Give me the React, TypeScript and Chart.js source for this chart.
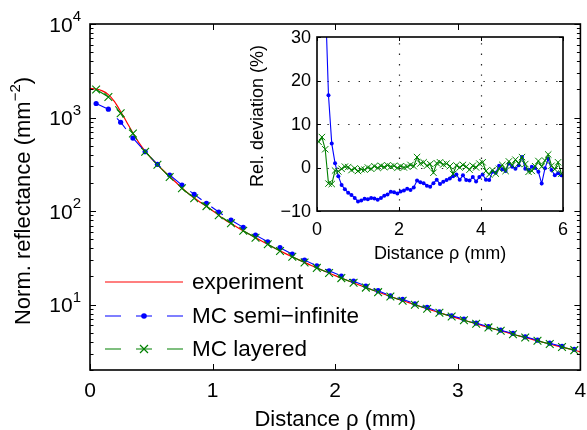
import React, { useEffect, useRef } from 'react';
import { Chart, registerables } from 'chart.js';

Chart.register(...registerables);

const FONT = '"Liberation Sans", Arial, Helvetica, sans-serif';

// ---------- main plot data ----------
const rhoExp = [0, 0.05, 0.1, 0.15, 0.2, 0.25, 0.3, 0.35, 0.4, 0.45, 0.5, 0.55, 0.6, 0.7, 0.8, 0.9, 1.0, 1.1, 1.2, 1.3, 1.4, 1.5, 1.6, 1.7, 1.8, 1.9, 2.0, 2.1, 2.2, 2.3, 2.4, 2.5, 2.6, 2.7, 2.8, 2.9, 3.0, 3.1, 3.2, 3.3, 3.4, 3.5, 3.6, 3.7, 3.8, 3.9, 4.0];
const reflExperiment = [2042, 2018, 1928, 1758, 1479, 1161, 891, 684, 537, 437, 367, 314, 270, 203, 155, 124, 101, 81, 67.3, 56.4, 47.8, 40.6, 34.9, 30.3, 26.4, 23.2, 20.4, 18.1, 16.1, 14.4, 12.9, 11.6, 10.5, 9.49, 8.61, 7.82, 7.13, 6.52, 5.97, 5.47, 5.04, 4.63, 4.28, 3.94, 3.65, 3.38, 3.13];

const rhoMC = [0.05, 0.15, 0.25, 0.35, 0.45, 0.55, 0.65, 0.75, 0.85, 0.95, 1.05, 1.15, 1.25, 1.35, 1.45, 1.55, 1.65, 1.75, 1.85, 1.95, 2.05, 2.15, 2.25, 2.35, 2.45, 2.55, 2.65, 2.75, 2.85, 2.95, 3.05, 3.15, 3.25, 3.35, 3.45, 3.55, 3.65, 3.75, 3.85, 3.95];
const reflSemiInfinite = [1413, 1230, 891, 603, 431, 316, 243, 190, 151, 121, 97.7, 80.2, 67.0, 55.3, 47.0, 40.6, 34.7, 29.9, 26.0, 23.0, 20.2, 17.8, 15.8, 14.1, 12.4, 11.4, 10.2, 9.33, 8.36, 7.59, 7.0, 6.35, 5.81, 5.33, 4.92, 4.53, 4.17, 3.87, 3.58, 3.33];
const reflLayered = [1995, 1660, 1109, 676, 431, 313, 231, 175, 137, 113, 90.2, 74.0, 61.7, 51.8, 44.1, 37.5, 32.5, 28.2, 24.7, 21.8, 19.2, 17.1, 15.2, 13.6, 12.2, 11.0, 9.95, 9.04, 8.2, 7.46, 6.82, 6.24, 5.71, 5.25, 4.83, 4.45, 4.1, 3.79, 3.52, 3.26];

const mainXTicks = [0, 1, 2, 3, 4];
const mainYExponents = [1, 2, 3, 4];
const legendLabels = ['experiment', 'MC semi\u2212infinite', 'MC layered'];

// ---------- inset data ----------
const rhoDev = [0.04, 0.12, 0.2, 0.28, 0.36, 0.44, 0.52, 0.6, 0.68, 0.76, 0.84, 0.92, 1.0, 1.08, 1.16, 1.24, 1.32, 1.4, 1.48, 1.56, 1.64, 1.72, 1.8, 1.88, 1.96, 2.04, 2.12, 2.2, 2.28, 2.36, 2.44, 2.52, 2.6, 2.68, 2.76, 2.84, 2.92, 3.0, 3.08, 3.16, 3.24, 3.32, 3.4, 3.48, 3.56, 3.64, 3.72, 3.8, 3.88, 3.96, 4.04, 4.12, 4.2, 4.28, 4.36, 4.44, 4.52, 4.6, 4.68, 4.76, 4.84, 4.92, 5.0, 5.08, 5.16, 5.24, 5.32, 5.4, 5.48, 5.56, 5.64, 5.72, 5.8, 5.88, 5.96];
const devSemiInfinite = [80, 60, 40, 16.6, 5.5, 1.0, -2.0, -4.0, -5.0, -5.8, -6.3, -7.0, -7.8, -7.6, -7.2, -7.3, -7.0, -7.1, -7.4, -7.0, -6.5, -6.2, -5.6, -5.7, -6.0, -5.5, -5.3, -4.9, -5.2, -4.6, -3.0, -3.4, -3.6, -4.2, -4.4, -3.6, -2.8, -3.8, -3.3, -2.9, -2.5, -2.0, -1.6, -2.8, -1.8, -2.9, -3.0, -2.2, -3.2, -2.2, -1.6, -2.8, -2.9, -1.0, -1.2, 0.4, -0.4, -0.8, 0.9, 0.2, -0.3, 0.5, 2.4, -0.3, -0.6, 0.2, -0.1, -1.0, -3.7, -0.2, 2.0, -0.6, -1.8, -1.3, -1.8];
const devLayered = [5.9, 7.0, 4.2, -3.7, -3.8, -0.7, -0.9, -0.3, 0.2, 0.1, -0.6, -0.2, -0.8, -0.4, -0.5, 0.0, -0.3, 0.3, -0.1, 0.4, 0.1, 0.5, 0.2, 0.4, -0.1, 0.3, 0.0, 0.2, 0.6, 0.3, 2.4, 0.9, 1.2, 0.4, 0.8, -1.2, 1.0, 1.2, 0.7, 0.9, 0.3, -1.5, 0.5, 0.0, 0.6, 0.2, -0.5, 0.4, 0.0, 0.9, 1.2, -0.8, -1.6, -0.6, -1.4, -0.3, 0.6, -0.8, 1.4, 0.5, 1.8, 0.9, 2.4, 0.8, -1.0, -0.8, 0.3, 1.5, 0.2, 1.6, 3.0, 0.4, -0.4, 1.2, -1.4];

const insetXTicks = [0, 2, 4, 6];
const insetYTicks = [-10, 0, 10, 20, 30];

const RED = '#ff0000';
const BLUE = '#0000ff';
const GREEN = '#008000';

const pts = (xs: number[], ys: number[]) => xs.map((x, i) => ({ x, y: ys[i] }));

function drawMarker(ctx: CanvasRenderingContext2D, kind: string, cx: number, cy: number, color: string) {
  ctx.save();
  if (kind === 'dot') {
    ctx.fillStyle = color;
    ctx.beginPath();
    ctx.arc(cx, cy, 2.8, 0, Math.PI * 2);
    ctx.fill();
  } else if (kind === 'x') {
    ctx.strokeStyle = color;
    ctx.lineWidth = 1.2;
    ctx.beginPath();
    ctx.moveTo(cx - 4, cy - 4); ctx.lineTo(cx + 4, cy + 4);
    ctx.moveTo(cx - 4, cy + 4); ctx.lineTo(cx + 4, cy - 4);
    ctx.stroke();
  }
  ctx.restore();
}

const mainDecor = {
  id: 'mainDecor',
  afterDraw(chart: any) {
    const { ctx, chartArea: a, scales } = chart;
    const x = scales.x, y = scales.y;
    ctx.save();
    ctx.strokeStyle = '#000';
    ctx.fillStyle = '#000';
    ctx.lineWidth = 1;
    // y ticks (log, major + minor), inward on both sides
    ctx.beginPath();
    for (let k = 0; k <= 4; k++) {
      for (let m = 1; m <= 9; m++) {
        const v = m * Math.pow(10, k);
        if (v < y.min || v > y.max) continue;
        const py = Math.round(y.getPixelForValue(v)) + 0.5;
        const len = m === 1 ? 6 : 3.5;
        ctx.moveTo(a.left, py); ctx.lineTo(a.left + len, py);
        ctx.moveTo(a.right, py); ctx.lineTo(a.right - len, py);
      }
    }
    // x ticks inward top & bottom
    mainXTicks.forEach((t) => {
      const px = Math.round(x.getPixelForValue(t)) + 0.5;
      ctx.moveTo(px, a.bottom); ctx.lineTo(px, a.bottom - 6);
      ctx.moveTo(px, a.top); ctx.lineTo(px, a.top + 6);
    });
    ctx.stroke();
    // frame
    ctx.lineWidth = 1.6;
    ctx.strokeRect(a.left, a.top, a.right - a.left, a.bottom - a.top);

    // y tick labels 10^k
    mainYExponents.forEach((e) => {
      const py = y.getPixelForValue(Math.pow(10, e));
      const sup = String(e);
      ctx.font = `15px ${FONT}`;
      const ws = ctx.measureText(sup).width;
      const xr = a.left - 9;
      ctx.textBaseline = 'middle';
      ctx.textAlign = 'left';
      ctx.fillText(sup, xr - ws, py - 7);
      ctx.font = `21px ${FONT}`;
      ctx.textAlign = 'right';
      ctx.fillText('10', xr - ws, py + 2);
    });
    // x tick labels
    ctx.font = `21px ${FONT}`;
    ctx.textAlign = 'center';
    ctx.textBaseline = 'middle';
    mainXTicks.forEach((t) => {
      ctx.fillText(String(t), x.getPixelForValue(t), a.bottom + 21);
    });
    // x title
    ctx.font = `22px ${FONT}`;
    ctx.fillText('Distance \u03c1 (mm)', (a.left + a.right) / 2, 420);
    // y title with superscript
    ctx.save();
    ctx.translate(24, (a.top + a.bottom) / 2 + 4);
    ctx.rotate(-Math.PI / 2);
    const p1 = 'Norm. reflectance (mm', p2 = '\u22122', p3 = ')';
    ctx.font = `22px ${FONT}`;
    const w1 = ctx.measureText(p1).width, w3 = ctx.measureText(p3).width;
    ctx.font = `15px ${FONT}`;
    const w2 = ctx.measureText(p2).width;
    let sx = -(w1 + w2 + w3) / 2;
    ctx.textAlign = 'left';
    ctx.textBaseline = 'middle';
    ctx.font = `22px ${FONT}`;
    ctx.fillText(p1, sx, 0);
    sx += w1;
    ctx.font = `15px ${FONT}`;
    ctx.fillText(p2, sx, -8);
    sx += w2;
    ctx.font = `22px ${FONT}`;
    ctx.fillText(p3, sx, 0);
    ctx.restore();

    // legend
    const rows = [
      { color: RED, dashed: false, marker: '', y: 282 },
      { color: BLUE, dashed: true, marker: 'dot', y: 316 },
      { color: GREEN, dashed: true, marker: 'x', y: 349 },
    ];
    rows.forEach((r, i) => {
      ctx.save();
      ctx.strokeStyle = r.color;
      ctx.lineWidth = 1.2;
      ctx.beginPath();
      if (r.dashed) {
        [[105, 121], [136, 152], [167, 183]].forEach(([s, e]) => {
          ctx.moveTo(s, r.y); ctx.lineTo(e, r.y);
        });
      } else {
        ctx.moveTo(105, r.y); ctx.lineTo(183, r.y);
      }
      ctx.stroke();
      ctx.restore();
      if (r.marker) drawMarker(ctx, r.marker, 144, r.y, r.color);
      ctx.fillStyle = '#000';
      ctx.font = `22.5px ${FONT}`;
      ctx.textAlign = 'left';
      ctx.textBaseline = 'middle';
      ctx.fillText(legendLabels[i], 192, r.y + 1);
    });
    ctx.restore();
  },
};

const insetDecor = {
  id: 'insetDecor',
  beforeDatasetsDraw(chart: any) {
    const { ctx, chartArea: a, scales } = chart;
    const x = scales.x, y = scales.y;
    ctx.save();
    ctx.strokeStyle = 'rgba(0,0,0,0.85)';
    ctx.lineWidth = 1.2;
    ctx.setLineDash([1.4, 9]);
    ctx.beginPath();
    insetXTicks.forEach((t) => {
      if (t <= x.min || t >= x.max) return;
      const px = Math.round(x.getPixelForValue(t)) + 0.5;
      ctx.moveTo(px, a.bottom); ctx.lineTo(px, a.top);
    });
    insetYTicks.forEach((t) => {
      if (t <= y.min || t >= y.max) return;
      const py = Math.round(y.getPixelForValue(t)) + 0.5;
      ctx.moveTo(a.left, py); ctx.lineTo(a.right, py);
    });
    ctx.stroke();
    ctx.restore();
  },
  afterDraw(chart: any) {
    const { ctx, chartArea: a, scales } = chart;
    const x = scales.x, y = scales.y;
    ctx.save();
    ctx.strokeStyle = '#000';
    ctx.fillStyle = '#000';
    ctx.lineWidth = 1;
    ctx.beginPath();
    insetXTicks.forEach((t) => {
      const px = Math.round(x.getPixelForValue(t)) + 0.5;
      ctx.moveTo(px, a.bottom); ctx.lineTo(px, a.bottom - 4);
      ctx.moveTo(px, a.top); ctx.lineTo(px, a.top + 4);
    });
    insetYTicks.forEach((t) => {
      const py = Math.round(y.getPixelForValue(t)) + 0.5;
      ctx.moveTo(a.left, py); ctx.lineTo(a.left + 4, py);
      ctx.moveTo(a.right, py); ctx.lineTo(a.right - 4, py);
    });
    ctx.stroke();
    ctx.lineWidth = 1.6;
    ctx.strokeRect(a.left, a.top, a.right - a.left, a.bottom - a.top);

    ctx.font = `18px ${FONT}`;
    ctx.textBaseline = 'middle';
    ctx.textAlign = 'right';
    insetYTicks.forEach((t) => {
      const label = t < 0 ? '\u2212' + String(-t) : String(t);
      ctx.fillText(label, a.left - 6, y.getPixelForValue(t) + 1);
    });
    ctx.textAlign = 'center';
    insetXTicks.forEach((t) => {
      ctx.fillText(String(t), x.getPixelForValue(t), a.bottom + 19);
    });
    ctx.fillText('Distance \u03c1 (mm)', (a.left + a.right) / 2, a.bottom + 43);
    ctx.save();
    ctx.translate(a.left - 59, (a.top + a.bottom) / 2 - 8);
    ctx.rotate(-Math.PI / 2);
    ctx.fillText('Rel. deviation (%)', 0, 0);
    ctx.restore();
    ctx.restore();
  },
};

export default function App() {
  const mainRef = useRef<HTMLCanvasElement | null>(null);
  const insetRef = useRef<HTMLCanvasElement | null>(null);

  useEffect(() => {
    const mainChart = new Chart(mainRef.current as HTMLCanvasElement, {
      type: 'line',
      data: {
        datasets: [
          {
            label: legendLabels[0],
            data: pts(rhoExp, reflExperiment),
            borderColor: RED,
            borderWidth: 1.2,
            pointRadius: 0,
            cubicInterpolationMode: 'monotone',
            order: 3,
          },
          {
            label: legendLabels[1],
            data: pts(rhoMC, reflSemiInfinite),
            borderColor: BLUE,
            borderWidth: 1.1,
            borderDash: [14, 12],
            pointStyle: 'circle',
            pointRadius: 2.6,
            pointBackgroundColor: BLUE,
            pointBorderColor: BLUE,
            pointBorderWidth: 0,
            order: 2,
          },
          {
            label: legendLabels[2],
            data: pts(rhoMC, reflLayered),
            borderColor: GREEN,
            borderWidth: 1.1,
            borderDash: [14, 12],
            pointStyle: 'crossRot',
            pointRadius: 5.5,
            pointBorderColor: GREEN,
            pointBorderWidth: 1.1,
            order: 1,
          },
        ] as any,
      },
      options: {
        animation: false,
        responsive: false,
        devicePixelRatio: 1,
        events: [],
        layout: { padding: { left: 90, top: 24, right: 6, bottom: 60 } },
        scales: {
          x: { type: 'linear', min: 0, max: 4, display: false },
          y: { type: 'logarithmic', min: 2, max: 10000, display: false },
        },
        plugins: { legend: { display: false }, tooltip: { enabled: false } },
      } as any,
      plugins: [mainDecor],
    });

    const insetChart = new Chart(insetRef.current as HTMLCanvasElement, {
      type: 'line',
      data: {
        datasets: [
          {
            label: legendLabels[1],
            data: pts(rhoDev, devSemiInfinite),
            borderColor: BLUE,
            borderWidth: 1.1,
            pointStyle: 'circle',
            pointRadius: 2,
            pointBackgroundColor: BLUE,
            pointBorderColor: BLUE,
            pointBorderWidth: 0,
            order: 2,
          },
          {
            label: legendLabels[2],
            data: pts(rhoDev, devLayered),
            borderColor: GREEN,
            borderWidth: 1.1,
            pointStyle: 'crossRot',
            pointRadius: 4.5,
            pointBorderColor: GREEN,
            pointBorderWidth: 1,
            order: 1,
          },
        ] as any,
      },
      options: {
        animation: false,
        responsive: false,
        devicePixelRatio: 1,
        events: [],
        layout: { padding: { left: 87, top: 37, right: 24, bottom: 59 } },
        scales: {
          x: { type: 'linear', min: 0, max: 6, display: false },
          y: { type: 'linear', min: -10, max: 30, display: false },
        },
        plugins: { legend: { display: false }, tooltip: { enabled: false } },
      } as any,
      plugins: [insetDecor],
    });

    return () => {
      mainChart.destroy();
      insetChart.destroy();
    };
  }, []);

  return (
    <div style={{ position: 'fixed', left: 0, top: 0, width: 587, height: 430, background: '#fff' }}>
      <canvas
        ref={mainRef}
        width={587}
        height={430}
        style={{ position: 'absolute', left: 0, top: 0, width: 587, height: 430 }}
      />
      <canvas
        ref={insetRef}
        width={357}
        height={270}
        style={{ position: 'absolute', left: 230, top: 0, width: 357, height: 270 }}
      />
    </div>
  );
}
